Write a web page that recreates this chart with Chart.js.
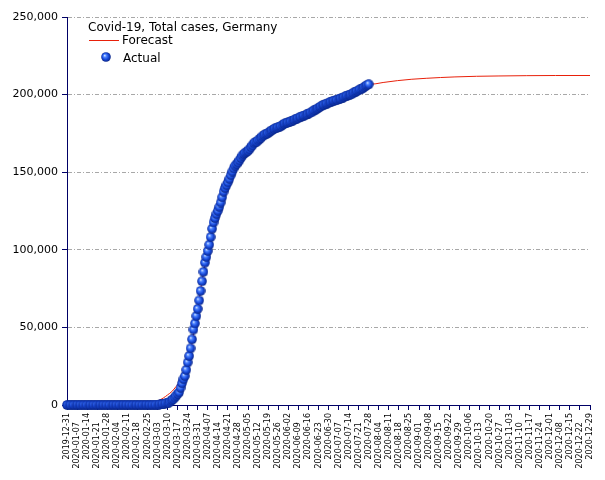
<!DOCTYPE html>
<html><head><meta charset="utf-8">
<script src="https://cdn.jsdelivr.net/npm/chart.js@4"></script>
<style>html,body{margin:0;padding:0;background:#fff}</style>
</head><body>
<canvas id="c" width="605" height="480"></canvas>
<script>
const chartTitle = 'Covid-19, Total cases, Germany';
const seriesNames = ['Forecast', 'Actual'];

// weekly tick labels, day 0 = 2019-12-31, one every 7 days
const tickLabels = [
 '2019-12-31','2020-01-07','2020-01-14','2020-01-21','2020-01-28','2020-02-04','2020-02-11','2020-02-18','2020-02-25',
 '2020-03-03','2020-03-10','2020-03-17','2020-03-24','2020-03-31','2020-04-07','2020-04-14','2020-04-21','2020-04-28',
 '2020-05-05','2020-05-12','2020-05-19','2020-05-26','2020-06-02','2020-06-09','2020-06-16','2020-06-23','2020-06-30',
 '2020-07-07','2020-07-14','2020-07-21','2020-07-28','2020-08-04','2020-08-11','2020-08-18','2020-08-25','2020-09-01',
 '2020-09-08','2020-09-15','2020-09-22','2020-09-29','2020-10-06','2020-10-13','2020-10-20','2020-10-27','2020-11-03',
 '2020-11-10','2020-11-17','2020-11-24','2020-12-01','2020-12-08','2020-12-15','2020-12-22','2020-12-29'
];

// actual cumulative cases, one per day from 2019-12-31 to 2020-07-28
const actualCases = [
 0,
 0,0,0,0,0,0,0,0,0,0, 0,0,0,0,0,0,0,0,0,0, 0,0,0,0,0,0, 1,4,4,4,5,
 8,10,12,12,12,12,13,13,14,14, 16,16,16,16,16,16,16,16,16,16,16,16,16,16, 18,21,26,53,66,
 117,150,188,240,349,534,684,847,1112,1296, 1567,2369,3062,3795,4838,6012,7156,8198,10999,13957,
 16662,18610,22672,27436,31554,36508,42288,48582,52547,57298, 61913,
 67366,73522,79696,85778,91714,95391,99225,103228,108202,113525, 117658,120479,123016,125098,127584,130450,133830,137439,139897,141672,
 143457,145694,148046,150383,152438,154175,155193,156337,157641,159119,
 160758,161703,162496,163175,163860,164807,166091,167300,168551,169218, 169575,170508,171306,172239,173152,173772,174355,174697,175210,176007,
 176752,177212,177850,178281,178570,179002,179364,179717,180458,181196, 181482,
 181815,182028,182370,182764,183271,183678,184193,184543,184861,185416, 185674,186269,186461,186839,187184,187764,188252,188534,189135,189822,
 190359,190862,191449,192079,192556,193243,193499,194036,194259,194725,
 195042,195418,195893,196096,196335,196554,196944,197341,197523,198064, 198556,198963,199375,199726,199919,200260,200843,201372,201823,202345,
 202799,203325,203717,204183,204964,205623,206242,206667
];

// forecast, read at selected days (day 0 = 2019-12-31)
const forecastDays  = [0, 50, 55, 58, 61, 64, 67, 70, 73, 76, 79, 82, 85, 88, 91, 94, 97, 100, 103, 106, 109, 112, 115, 118, 121, 125, 130, 135, 140, 145, 150, 155, 160, 165, 170, 175, 180, 185, 190, 195, 200, 205, 210, 215, 220, 230, 240, 250, 260, 270, 285, 300, 320, 340, 364];
const forecastCases = [0, 0, 300, 900, 1800, 3000, 4500, 6500, 8700, 12000, 15500, 21000, 30000, 45000, 62000, 80000, 95000, 107000, 118000, 126000, 134000, 140000, 147500, 152500, 158000, 163000, 168500, 172800, 176000, 178800, 181000, 183000, 185300, 188000, 191000, 194000, 195500, 197000, 198800, 200300, 202200, 204200, 206300, 207000, 207800, 209000, 209900, 210500, 211000, 211400, 211800, 212000, 212200, 212300, 212300];

// 3D ball marker
const ball = document.createElement('canvas');
ball.width = 10; ball.height = 10;
(function(){
  const b = ball.getContext('2d');
  const g = b.createRadialGradient(3.6, 3.4, 0.3, 5, 5, 5.2);
  g.addColorStop(0, '#cfe0ff');
  g.addColorStop(0.25, '#4f85ff');
  g.addColorStop(0.6, '#1748d8');
  g.addColorStop(1, '#071e78');
  b.fillStyle = g;
  b.beginPath(); b.arc(5, 5, 4.8, 0, Math.PI * 2); b.fill();
})();

const legendPlugin = {
  id: 'inlegend',
  afterDraw(chart) {
    const c = chart.ctx;
    c.save();
    c.font = '12px "DejaVu Sans"';
    c.fillStyle = '#000';
    c.textBaseline = 'alphabetic';
    c.fillText(chartTitle, 88, 31);
    c.strokeStyle = '#e8200a';
    c.lineWidth = 1;
    c.beginPath(); c.moveTo(89, 40.5); c.lineTo(119, 40.5); c.stroke();
    c.fillText(seriesNames[0], 122, 44);
    c.drawImage(ball, 101, 52);
    c.fillText(seriesNames[1], 123, 62);
    c.restore();
  }
};

new Chart(document.getElementById('c'), {
  type: 'line',
  data: {
    datasets: [
      {
        label: seriesNames[1],
        data: actualCases.map((v, i) => ({x: i, y: v})),
        showLine: false,
        pointStyle: ball,
        pointRadius: 4.5,
        pointHoverRadius: 4.5,
        order: 0,
        clip: false
      },
      {
        label: seriesNames[0],
        data: forecastDays.map((d, i) => ({x: d, y: forecastCases[i]})),
        borderColor: '#e8200a',
        borderWidth: 1,
        pointRadius: 0,
        fill: false,
        cubicInterpolationMode: 'monotone',
        order: 1
      }
    ]
  },
  options: {
    responsive: false,
    animation: false,
    events: [],
    layout: {padding: {top: 17, right: 15, left: 0, bottom: 0}},
    plugins: {legend: {display: false}, tooltip: {enabled: false}},
    scales: {
      x: {
        type: 'linear',
        min: 0,
        max: (tickLabels.length - 1) * 7,
        afterBuildTicks: axis => { axis.ticks = tickLabels.map((_, i) => ({value: i * 7})); },
        ticks: {
          autoSkip: false,
          maxRotation: 90,
          minRotation: 90,
          padding: 3,
          color: '#000',
          font: {family: 'DejaVu Sans', size: 8},
          callback: (v, i) => tickLabels[i] + (i % 2 ? '\u2002  ' : '')
        },
        grid: {drawOnChartArea: false, tickLength: 5, color: '#000066', tickColor: '#000066'},
        border: {color: '#000066', width: 1},
        afterFit: s => { s.height = 75; }
      },
      y: {
        min: 0,
        max: 250000,
        ticks: {
          stepSize: 50000,
          padding: 4,
          color: '#000',
          font: {family: 'DejaVu Sans', size: 11},
          callback: v => v.toLocaleString('en-US')
        },
        grid: {
          color: ctx => (ctx.tick && ctx.tick.value === 0) ? 'rgba(0,0,0,0)' : '#a8a8a8',
          tickColor: '#000066',
          tickLength: 5
        },
        border: {color: '#000066', width: 1, dash: [4, 2, 1, 2]},
        afterFit: s => { s.width = 67; }
      }
    }
  },
  plugins: [legendPlugin]
});
</script>
</body></html>
